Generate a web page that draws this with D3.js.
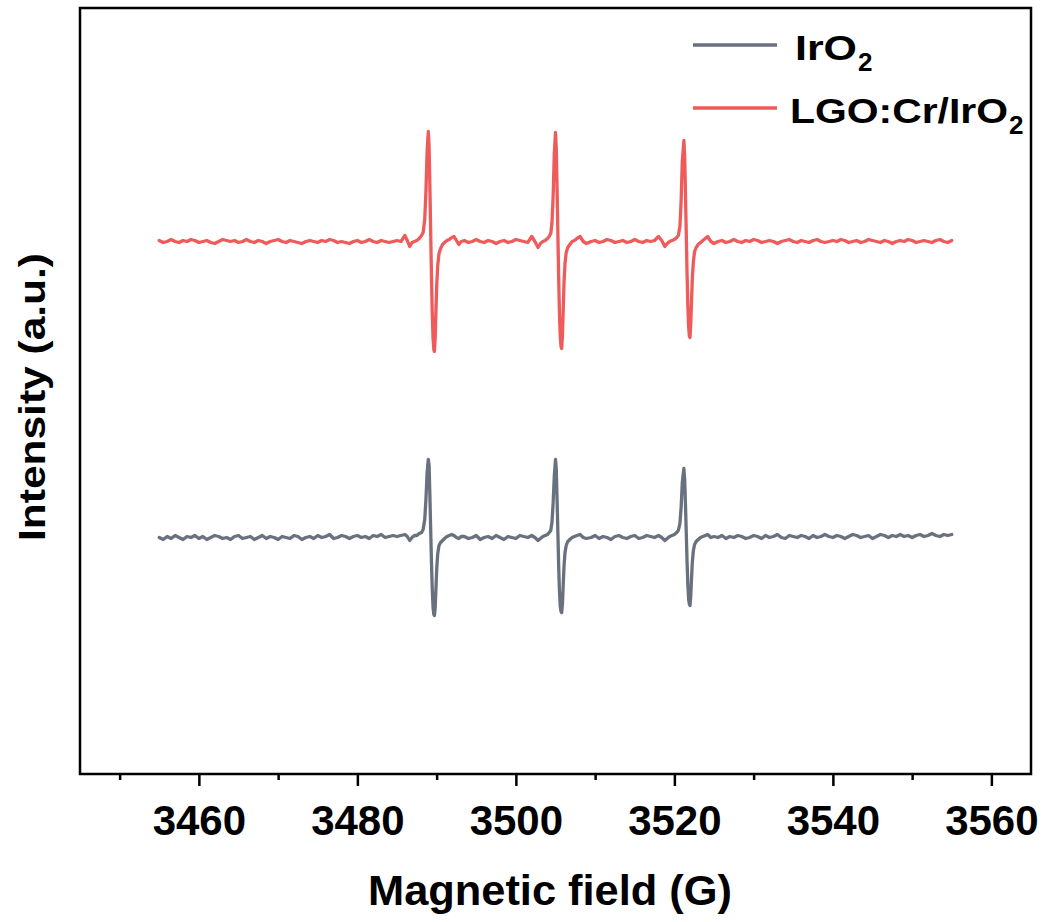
<!DOCTYPE html>
<html>
<head>
<meta charset="utf-8">
<script src="https://cdn.jsdelivr.net/npm/d3@7"></script>
<style>
  html, body { margin: 0; padding: 0; background: #ffffff; }
  svg { display: block; }
  text { font-family: "Liberation Sans", Arial, sans-serif; font-weight: bold; fill: #000; }
</style>
</head>
<body>
<svg id="chart" width="1045" height="922"></svg>
<script>
// ---------------- DATA ----------------
const seriesNames = ["IrO", "LGO:Cr/IrO"];
const seriesColors = ["#69717e", "#ef5a5a"];
const xTickValues = [3460, 3480, 3500, 3520, 3540, 3560];
const xTickLabels = ["3460", "3480", "3500", "3520", "3540", "3560"];
const xMinorTicks = [3450, 3470, 3490, 3510, 3530, 3550];

// magnetic field (G), segment by segment
const fieldA = [3455,3455.5,3456,3456.5,3457,3457.5,3458,3458.5,3459,3459.5,3460,3460.5,3461,3461.5,3462,3462.5,3463,3463.5,3464,3464.5,3465,3465.5,3466,3466.5,3467,3467.5,3468,3468.5,3469,3469.5,3470,3470.5,3471,3471.5,3472,3472.5,3473,3473.5,3474,3474.5,3475,3475.5,3476,3476.5,3477,3477.5,3478,3478.5,3479,3479.5,3480,3480.5,3481,3481.5,3482,3482.5,3483,3483.5,3484,3484.5,3485,3485.5];
const fieldP1 = [3486.0,3486.3,3486.6,3486.9,3487.2,3487.5,3487.8,3488.1,3488.3,3488.5,3488.65,3488.8,3488.95,3489.05,3489.15,3489.25,3489.35,3489.45,3489.55,3489.65,3489.72,3489.82,3489.92,3490.02,3490.14,3490.3,3490.5,3490.75,3491.0,3491.3,3491.6,3491.9,3492.2,3492.5,3492.8,3493.1];
const fieldB = [3493.5,3494,3494.5,3495,3495.5,3496,3496.5,3497,3497.5,3498,3498.5,3499,3499.5,3500,3500.5,3501,3501.5];
const fieldP2 = [3502.0,3502.4,3502.8,3503.1,3503.4,3503.7,3504.0,3504.2,3504.4,3504.55,3504.7,3504.85,3505.0,3505.1,3505.2,3505.3,3505.4,3505.5,3505.6,3505.7,3505.78,3505.88,3505.98,3506.08,3506.2,3506.35,3506.55,3506.8,3507.1,3507.4,3507.7,3508.1,3508.5,3508.9];
const fieldC = [3509.5,3510,3510.5,3511,3511.5,3512,3512.5,3513,3513.5,3514,3514.5,3515,3515.5,3516,3516.5,3517,3517.5];
const fieldP3 = [3518.0,3518.4,3518.8,3519.1,3519.4,3519.7,3520.0,3520.3,3520.5,3520.7,3520.85,3521.0,3521.2,3521.3,3521.4,3521.5,3521.6,3521.7,3521.8,3521.9,3521.97,3522.07,3522.17,3522.27,3522.4,3522.55,3522.75,3523.0,3523.3,3523.6,3523.9,3524.2,3524.6,3525.0];
const fieldD = [3525.5,3526,3526.5,3527,3527.5,3528,3528.5,3529,3529.5,3530,3530.5,3531,3531.5,3532,3532.5,3533,3533.5,3534,3534.5,3535,3535.5,3536,3536.5,3537,3537.5,3538,3538.5,3539,3539.5,3540,3540.5,3541,3541.5,3542,3542.5,3543,3543.5,3544,3544.5,3545,3545.5,3546,3546.5,3547,3547.5,3548,3548.5,3549,3549.5,3550,3550.5,3551,3551.5,3552,3552.5,3553,3553.5,3554,3554.5,3555];

// IrO2 intensity (a.u.)
const irA = [0,-2,1,-1,2,0,-2,1,0,2, -1,1,-2,0,2,1,-1,0,-2,1, 2,-1,0,1,-2,0,2,-1,1,0, -2,1,0,-1,2,1,-2,0,1,-1, 2,0,1,3,-1,0,2,1,-1,1, 2,0,1,-1,2,1,3,0,1,2, 1,2];
const irP1 = [3,1,-3,0,2,2,4,5,8,18,38,65,78,72,42,8,-25,-52,-70,-77,-78,-70,-50,-30,-16,-8,-5,-3,-1,1,2,3,2,0,-1,1];
const irB = [1,-1,0,2,-2,0,1,-1,2,0,-2,1,0,-1,2,1,0];
const irP2 = [2,0,-3,-1,1,2,3,5,7,15,34,62,78,68,38,5,-28,-54,-69,-74,-75,-66,-46,-28,-15,-8,-4,-2,0,1,2,3,0,-1];
const irC = [0,2,-1,1,0,-2,1,2,0,-1,1,2,-1,0,2,1,0];
const irP3 = [2,0,-3,-1,1,2,3,5,7,14,30,55,69,58,33,5,-24,-47,-62,-67,-68,-58,-40,-24,-13,-7,-4,-2,0,1,2,3,0,1];
const irD = [0,2,-1,1,0,2,1,-1,0,2, 1,-1,2,0,1,3,0,-1,2,1, 0,2,1,-1,2,0,1,3,1,0, 2,1,-1,1,3,2,0,1,2,-1, 1,3,2,0,2,1,3,1,2,0, 2,3,1,2,4,2,1,3,2,3];

// LGO:Cr/IrO2 intensity (a.u.)
const lgA = [297,295,296,298,296,295,297,296,298,297, 295,296,297,295,294,296,298,297,296,297, 295,296,298,296,295,297,296,294,296,297, 298,296,295,297,296,295,294,296,297,296, 295,297,296,298,297,295,296,295,294,296, 297,295,296,298,296,295,297,296,295,296, 297,296];
const lgP1 = [302,297,291,295,296,297,299,302,305,318,346,386,406,391,351,306,261,224,199,188,186,200,228,254,272,284,289,293,295,297,298,300,301,297,293,296];
const lgB = [297,295,296,298,296,295,297,296,294,296,297,295,296,298,297,296,295];
const lgP2 = [301,296,290,294,296,297,299,301,304,314,341,384,405,388,348,304,260,224,201,191,189,203,230,256,274,285,290,293,296,297,299,301,296,294];
const lgC = [296,297,295,296,298,297,295,296,297,295,296,298,296,295,297,296,297];
const lgP3 = [301,297,291,294,296,297,298,300,302,311,336,376,397,381,344,304,264,232,211,201,200,214,238,260,276,286,290,293,295,297,299,301,296,294];
const lgD = [296,297,295,296,298,296,295,297,296,298, 297,295,296,297,296,294,296,297,298,296, 295,297,296,295,297,298,296,295,296,297, 296,298,297,295,296,297,295,296,298,297, 296,295,297,296,294,296,297,296,298,297, 295,296,297,296,295,297,298,296,295,297];

const field = [].concat(fieldA, fieldP1, fieldB, fieldP2, fieldC, fieldP3, fieldD);
const irO2 = [].concat(irA, irP1, irB, irP2, irC, irP3, irD);
const lgoCr = [].concat(lgA, lgP1, lgB, lgP2, lgC, lgP3, lgD);

// ---------------- CHART ----------------
const svg = d3.select("#chart");
const L = 80, R = 1031, T = 8, B = 774;

const x = d3.scaleLinear().domain([3445, 3565]).range([L, R]);
const y = d3.scaleLinear().domain([-236.5, 529.5]).range([B, T]);

const line = d3.line().x(d => x(d[0])).y(d => y(d[1]));

function pairs(vals) {
  const n = Math.min(field.length, vals.length);
  return d3.range(n).map(i => [field[i], vals[i]]);
}

const seriesData = [irO2, lgoCr];
seriesData.forEach((vals, i) => {
  svg.append("path")
    .datum(pairs(vals))
    .attr("fill", "none")
    .attr("stroke", seriesColors[i])
    .attr("stroke-width", 3.3)
    .attr("stroke-linejoin", "round")
    .attr("stroke-linecap", "round")
    .attr("d", line);
});

// frame
svg.append("rect")
  .attr("x", L).attr("y", T).attr("width", R - L).attr("height", B - T)
  .attr("fill", "none").attr("stroke", "#000").attr("stroke-width", 2.5);

// x axis major ticks
const xAxis = d3.axisBottom(x)
  .tickValues(xTickValues)
  .tickFormat((d, i) => xTickLabels[i])
  .tickSize(12)
  .tickPadding(19);
const gx = svg.append("g").attr("transform", `translate(0,${B})`).call(xAxis);
gx.select(".domain").remove();
gx.selectAll(".tick line").attr("stroke", "#000").attr("stroke-width", 2.5);
gx.selectAll(".tick text")
  .attr("font-family", "'Liberation Sans', Arial, sans-serif")
  .attr("font-weight", "bold")
  .attr("font-size", 42)
  .attr("fill", "#000");

// x axis minor ticks
const xMinor = d3.axisBottom(x).tickValues(xMinorTicks).tickSize(6).tickFormat("");
const gm = svg.append("g").attr("transform", `translate(0,${B})`).call(xMinor);
gm.select(".domain").remove();
gm.selectAll(".tick line").attr("stroke", "#000").attr("stroke-width", 2.5);

// axis titles
svg.append("text")
  .attr("x", 550).attr("y", 905)
  .attr("text-anchor", "middle")
  .attr("font-size", 42)
  .attr("textLength", 364)
  .attr("lengthAdjust", "spacingAndGlyphs")
  .text("Magnetic field (G)");

svg.append("text")
  .attr("transform", `translate(45,${397}) rotate(-90)`)
  .attr("text-anchor", "middle")
  .attr("font-size", 37)
  .attr("textLength", 288)
  .attr("lengthAdjust", "spacingAndGlyphs")
  .text("Intensity (a.u.)");

// legend
const legendY = [45, 108];
const legendTextX = [795, 790];
const legendTextW = [62, 218];
seriesNames.forEach((name, i) => {
  svg.append("line")
    .attr("x1", 693).attr("x2", 777)
    .attr("y1", legendY[i]).attr("y2", legendY[i])
    .attr("stroke", seriesColors[i]).attr("stroke-width", 3.5);
  svg.append("text")
    .attr("x", legendTextX[i]).attr("y", legendY[i] + 15)
    .attr("font-size", 35)
    .attr("textLength", legendTextW[i])
    .attr("lengthAdjust", "spacingAndGlyphs")
    .text(name);
  svg.append("text")
    .attr("x", legendTextX[i] + legendTextW[i] + 1).attr("y", legendY[i] + 26)
    .attr("font-size", 26)
    .text("2");
});
</script>
</body>
</html>
